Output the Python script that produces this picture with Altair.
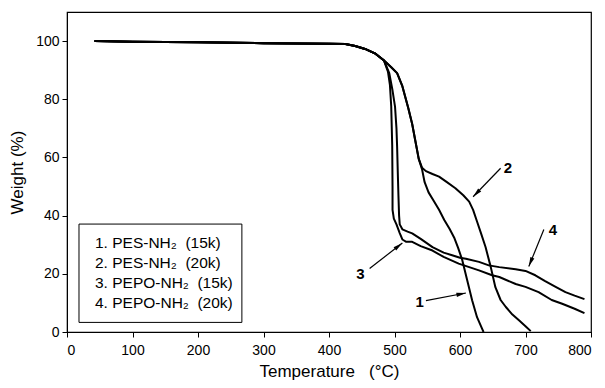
import math
import altair as alt
import pandas as pd

# ---- data ----
series_names = ["1", "2", "3", "4"]

t1 = [42, 100, 200, 300, 400, 425, 440, 455, 470, 484, 495, 504, 512, 521, 527, 532, 537, 542, 546, 552,
      560, 568, 576, 584, 591, 597, 603.5, 611, 618.5, 626, 634, 636]
w1 = [100, 99.8, 99.6, 99.3, 99.1, 99, 98.3, 97.3, 95.8, 93.3, 91, 89, 84.5, 77, 71.5, 65.5, 59.5, 56, 51.5, 48,
      45, 42, 38.5, 35.5, 32.5, 29, 24.7, 17.8, 10.9, 5.1, 1, 0]

t2 = [42, 100, 200, 300, 400, 425, 440, 455, 470, 484, 495, 504, 512, 521, 527, 532, 537, 542, 548, 558,
      568, 580, 593, 605, 614, 620, 626, 632, 639, 647, 654, 662, 670, 680, 690, 700, 708]
w2 = [100, 99.8, 99.6, 99.3, 99.1, 99, 98.3, 97.3, 95.8, 93.3, 91, 89, 84.5, 77, 71.5, 65.5, 59.5, 56.5, 55.3, 54.3,
      53.4, 51.5, 49.4, 47, 44.8, 42, 38, 34, 29.2, 22.3, 15.4, 11, 8.6, 6, 4, 2, 0.3]

t3 = [42, 100, 200, 300, 400, 425, 440, 455, 470, 484, 490, 493, 495, 496.5, 497, 497, 499, 503, 508, 512,
      518, 527, 540, 558, 575, 598, 629, 649, 660, 685, 700, 720, 740, 756, 775, 790]
w3 = [100, 99.8, 99.6, 99.3, 99.1, 99, 98.3, 97.3, 95.8, 93.3, 89.5, 85, 77.5, 64, 50, 42, 39, 37, 34, 31.8,
      31, 31, 29.5, 28, 25.8, 23.5, 21.2, 19.5, 18.9, 16.5, 15.5, 13.7, 11, 9.7, 8, 6.5]

t4 = [42, 100, 200, 300, 400, 425, 440, 455, 470, 484, 492, 497, 500.8, 503, 504, 505, 506, 507, 508, 512,
      520, 527, 540, 558, 575, 588, 600, 609, 629, 644, 660, 685, 700, 715, 730, 746, 761, 775, 790]
w4 = [100, 99.8, 99.6, 99.3, 99.1, 99, 98.3, 97.3, 95.8, 93.3, 89, 83, 77.5, 70, 63.7, 55, 47, 40, 37, 35.3,
      34.5, 33.9, 32, 29.2, 27.3, 26.4, 25.5, 25.2, 24.1, 22.9, 22.3, 21.6, 21, 19.5, 17.5, 15.5, 13.7, 12.5, 11.3]

NB = "\u00a0"
legend_labels = [f"1. PES-NH\u2082{NB} (15k)", f"2. PES-NH\u2082{NB} (20k)",
                 f"3. PEPO-NH\u2082{NB} (15k)", f"4. PEPO-NH\u2082{NB} (20k)"]
legend_text_x = [42.7, 42.7, 42.7, 42.7]
legend_text_y = [30.5, 23.6, 16.7, 9.8]
legend_box = {"x": [18.3], "x2": [267], "y": [3.3], "y2": [37.1]}

arrow_labels = ["1", "2", "3", "4"]
arrow_tail_x = [548, 662, 462, 728]
arrow_tail_y = [10.8, 56.3, 21.8, 35.2]
arrow_head_x = [609, 620, 512, 705]
arrow_head_y = [13.4, 46.5, 30.6, 22.5]
label_x = [538.5, 673, 448, 742]
label_y = [10.3, 56.3, 20, 35]

X_DOMAIN = [0, 800]
Y_DOMAIN = [0, 110]
W, H = 524, 320

# ---- tables ----
rows = []
for name, ts, ws in zip(series_names, [t1, t2, t3, t4], [w1, w2, w3, w4]):
    for i, (t, w) in enumerate(zip(ts, ws)):
        rows.append({"series": name, "idx": i, "x": t, "y": w})
curves = pd.DataFrame(rows)

legend_df = pd.DataFrame({"x": legend_text_x, "y": legend_text_y, "label": legend_labels})
box_df = pd.DataFrame(legend_box)

sx = W / (X_DOMAIN[1] - X_DOMAIN[0])
sy = H / (Y_DOMAIN[1] - Y_DOMAIN[0])
angles = []
for tx, ty, hx, hy in zip(arrow_tail_x, arrow_tail_y, arrow_head_x, arrow_head_y):
    dx = (hx - tx) * sx
    dy = -(hy - ty) * sy
    angles.append(math.degrees(math.atan2(dx, -dy)) % 360)
arrows_df = pd.DataFrame({"x": arrow_tail_x, "y": arrow_tail_y, "x2": arrow_head_x, "y2": arrow_head_y,
                          "hx": arrow_head_x, "hy": arrow_head_y, "angle": angles})
labels_df = pd.DataFrame({"x": label_x, "y": label_y, "label": arrow_labels})

xscale = alt.Scale(domain=X_DOMAIN, nice=False, zero=False)
yscale = alt.Scale(domain=Y_DOMAIN, nice=False, zero=False)
xaxis = alt.Axis(values=[0, 100, 200, 300, 400, 500, 600, 700, 800],
                 title=f"Temperature{NB}{NB}{NB}(\u00b0C)",
                 grid=False, tickSize=5, labelPadding=6, titlePadding=6, labelFontSize=14,
                 titleFontSize=17, titleFontWeight="normal")
yaxis = alt.Axis(values=[0, 20, 40, 60, 80, 100], title="Weight (%)", grid=False, tickSize=5,
                 labelPadding=3, titlePadding=9, labelFontSize=14, titleFontSize=17,
                 titleFontWeight="normal")


def X(field="x"):
    return alt.X(f"{field}:Q", scale=xscale, axis=xaxis)


def Y(field="y"):
    return alt.Y(f"{field}:Q", scale=yscale, axis=yaxis)


lines = alt.Chart(curves).mark_line(color="black", strokeWidth=2, strokeJoin="round").encode(
    x=X(), y=Y(), detail="series:N", order="idx:Q")

box = alt.Chart(box_df).mark_rect(fill="white", stroke="black", strokeWidth=1).encode(
    x=X(), x2="x2:Q", y=Y(), y2="y2:Q")

legend_text = alt.Chart(legend_df).mark_text(align="left", baseline="middle", fontSize=15.5,
                                             color="black").encode(x=X(), y=Y(), text="label:N")

shafts = alt.Chart(arrows_df).mark_rule(color="black", strokeWidth=1.2).encode(
    x=X(), y=Y(), x2="x2:Q", y2="y2:Q")

heads = alt.Chart(arrows_df).mark_point(shape="M0,0L0.45,2L-0.45,2Z", filled=True, opacity=1,
                                        color="black", size=90).encode(
    x=X("hx"), y=Y("hy"), angle=alt.Angle("angle:Q", scale=None))

arrow_text = alt.Chart(labels_df).mark_text(align="center", baseline="middle", fontSize=15,
                                            fontWeight="bold", color="black").encode(
    x=X(), y=Y(), text="label:N")

chart = alt.layer(box, legend_text, lines, shafts, heads, arrow_text).properties(
    width=W, height=H, autosize="none",
    padding={"left": 59, "top": 4, "right": 5, "bottom": 48}
).configure(font="Liberation Sans").configure_view(
    stroke="black", strokeWidth=1.2
).configure_axis(
    labelColor="black", titleColor="black", domainColor="black", tickColor="black",
    labelFont="Liberation Sans", titleFont="Liberation Sans"
)

chart.save("out.html", embed_options={"renderer": "svg", "actions": False})
